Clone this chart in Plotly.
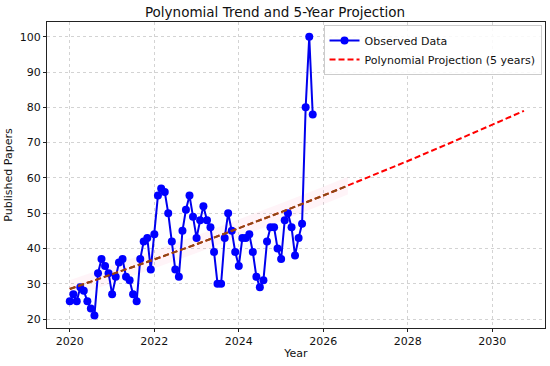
import pandas as pd
import plotly.graph_objects as go

# Observed monthly counts (Jan 2020 - Oct 2025)
obs_start = "2020-01-01"
observed = [25, 27, 25, 29, 28, 25, 23, 21, 33, 37, 35, 33,
            27, 32, 36, 37, 32, 31, 27, 25, 37, 42, 43, 34,
            44, 55, 57, 56, 50, 42, 34, 32, 45, 51, 55, 49,
            43, 48, 52, 48, 46, 39, 30, 30, 43, 50, 45, 39,
            35, 43, 43, 44, 39, 32, 29, 31, 42, 46, 46, 40,
            37, 48, 50, 46, 38, 43, 47, 80, 100, 78]
obs_dates = pd.date_range(obs_start, periods=len(observed), freq="MS")

# Polynomial trend / projection, read at nodes
trend_dates = pd.to_datetime(["2020-01-01", "2021-01-01", "2022-01-01", "2023-01-01",
                              "2024-01-01", "2025-01-01", "2026-01-01", "2026-08-01",
                              "2027-01-01", "2028-01-01", "2029-01-01", "2030-01-01",
                              "2030-10-01"])
trend_vals = [28.5, 32.6, 36.9, 41.2, 45.7, 50.3, 55.0, 57.8, 59.8, 64.8, 69.9, 75.1, 79.0]
fit_nodes = 8  # nodes covered by the fitted (overlapping) segment
band_half = 2.5

fig = go.Figure()

fd = list(trend_dates[:fit_nodes])
fv = trend_vals[:fit_nodes]
fig.add_trace(go.Scatter(x=fd, y=[v - band_half for v in fv], mode="lines",
                         line=dict(width=0), showlegend=False, hoverinfo="skip"))
fig.add_trace(go.Scatter(x=fd, y=[v + band_half for v in fv], mode="lines",
                         line=dict(width=0), fill="tonexty",
                         fillcolor="rgba(255,120,160,0.08)", showlegend=False, hoverinfo="skip"))

fig.add_trace(go.Scatter(x=obs_dates, y=observed, mode="lines+markers", name="Observed Data",
                         line=dict(color="#0000ee", width=2),
                         marker=dict(color="#0000ff", size=8)))
fig.add_trace(go.Scatter(x=trend_dates, y=trend_vals, mode="lines",
                         name="Polynomial Projection (5 years)",
                         line=dict(color="#ff0000", width=2, dash="6px,3px")))
fig.add_trace(go.Scatter(x=fd, y=fv, mode="lines", showlegend=False,
                         line=dict(color="#8a4a14", width=2, dash="6px,3px")))

axis_common = dict(showline=True, linecolor="#222", linewidth=1, mirror=True,
                   ticks="outside", ticklen=3, tickcolor="#222", automargin=False,
                   showgrid=True, gridcolor="#d3d3d3", griddash="3px,3px", gridwidth=1,
                   zeroline=False, tickfont=dict(size=11, color="#111"))

fig.update_layout(
    width=550, height=366,
    margin=dict(l=47, r=5, t=22, b=38),
    paper_bgcolor="white", plot_bgcolor="white",
    font=dict(family="DejaVu Sans", color="#111"),
    title=dict(text="Polynomial Trend and 5-Year Projection", x=0.5, xanchor="center",
               y=0.967, yanchor="middle", font=dict(size=13.5)),
    legend=dict(x=0.993, y=0.99, xanchor="right", yanchor="top", traceorder="normal",
                bgcolor="rgba(255,255,255,0.85)", bordercolor="#cccccc", borderwidth=1,
                font=dict(size=11), tracegroupgap=0),
    showlegend=True,
)
fig.update_xaxes(**axis_common, type="date", tickformat="%Y", dtick="M24", tick0="2020-01-01",
                 range=["2019-06-18", "2031-04-01"],
                 title=dict(text="Year", font=dict(size=11), standoff=2))
fig.update_yaxes(**axis_common, range=[17.45, 104.2], dtick=10, tick0=0,
                 title=dict(text="Published Papers", font=dict(size=11), standoff=4))

fig.write_html("out.html", config={"displayModeBar": False},
               post_script="document.body.style.margin='0';document.body.style.padding='0';")
